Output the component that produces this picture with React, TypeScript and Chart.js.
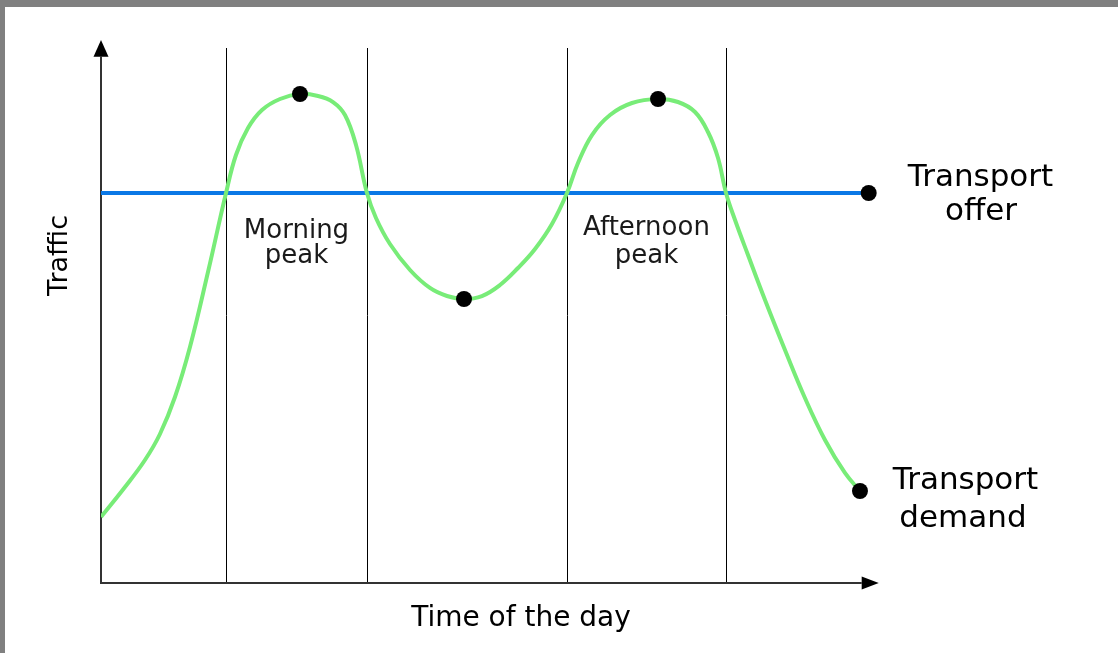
import { useEffect, useRef } from "react";
import { Chart, registerables } from "chart.js";

Chart.register(...registerables);

// Transport demand curve (x: time of day, arbitrary 0-100; y: traffic, arbitrary 0-100)
const demandX = [
  0.0, 3.09, 5.66, 7.59, 9.52, 11.45, 13.77, 16.09, 17.37, 18.92, 20.72, 23.04, 25.61,
  27.93, 29.86, 31.4, 32.82, 34.23, 35.39, 37.19, 39.77, 42.34, 44.53, 46.72,
  49.03, 51.35, 53.67, 55.86, 58.04, 59.97, 61.39, 63.19, 65.51, 68.34, 71.69,
  74.26, 76.45, 78.12, 79.41, 80.44, 81.6, 83.27, 85.46, 88.03, 90.6, 93.18, 95.75, 97.68,
];
const demandY = [
  12.15, 17.68, 22.65, 27.44, 34.25, 43.46, 57.27, 71.82, 78.82, 83.79, 87.11, 89.13, 90.06,
  89.69, 88.58, 86.19, 80.66, 71.82, 67.22, 62.43, 57.64, 54.33, 52.85, 52.3,
  52.85, 54.88, 58.01, 61.51, 66.11, 71.82, 77.35, 82.5, 86.19, 88.4, 89.13,
  88.58, 86.74, 83.06, 78.27, 71.82, 66.85, 60.41, 52.12, 42.91, 34.07, 26.34, 20.26, 16.94,
];

// Transport offer (constant)
const offerX = [0, 98.8];
const offerY = [71.82, 71.82];

// Highlighted points
const markerX = [25.61, 46.72, 71.69, 98.8, 97.68];
const markerY = [90.06, 52.3, 89.13, 71.82, 16.94];

// Peak period boundaries
const peakBoundaries = [16.09, 34.23, 59.97, 80.44];
const boundaryTop = 98.5;

const peakLabels = [["Morning", "peak"], ["Afternoon", "peak"]];
const offerLabel = ["Transport", "offer"];
const demandLabel = ["Transport", "demand"];
const xTitle = "Time of the day";
const yTitle = "Traffic";

const FONT = "'DejaVu Sans', Verdana, sans-serif";

const overlay = {
  id: "overlay",
  beforeDraw(chart: any) {
    const { ctx, width, height } = chart;
    ctx.save();
    ctx.fillStyle = "#ffffff";
    ctx.fillRect(0, 0, width, height);
    ctx.fillStyle = "#808080";
    ctx.fillRect(0, 0, width, 7);
    ctx.fillRect(0, 0, 5, height);
    ctx.restore();
  },
  beforeDatasetsDraw(chart: any) {
    const { ctx } = chart;
    const xs = chart.scales.x;
    const ys = chart.scales.y;
    const x0 = Math.round(xs.getPixelForValue(0));
    const y0 = Math.round(ys.getPixelForValue(0));
    const yArrowBase = ys.getPixelForValue(96.9);
    const yTip = ys.getPixelForValue(100);
    const xArrowBase = xs.getPixelForValue(97.9);
    const xTip = xs.getPixelForValue(100.1);
    ctx.save();
    // peak boundaries
    ctx.strokeStyle = "#000000";
    ctx.lineWidth = 1;
    const bTop = Math.round(ys.getPixelForValue(boundaryTop));
    peakBoundaries.forEach((b) => {
      const px = Math.round(xs.getPixelForValue(b)) + 0.5;
      ctx.beginPath();
      ctx.moveTo(px, bTop);
      ctx.lineTo(px, y0);
      ctx.stroke();
    });
    // axes
    ctx.strokeStyle = "#333333";
    ctx.lineWidth = 2;
    ctx.beginPath();
    ctx.moveTo(x0, yArrowBase);
    ctx.lineTo(x0, y0);
    ctx.lineTo(xArrowBase, y0);
    ctx.stroke();
    ctx.fillStyle = "#000000";
    ctx.beginPath();
    ctx.moveTo(x0, yTip);
    ctx.lineTo(x0 - 7.5, yArrowBase);
    ctx.lineTo(x0 + 7.5, yArrowBase);
    ctx.closePath();
    ctx.fill();
    ctx.beginPath();
    ctx.moveTo(xTip, y0);
    ctx.lineTo(xArrowBase, y0 - 6.5);
    ctx.lineTo(xArrowBase, y0 + 6.5);
    ctx.closePath();
    ctx.fill();
    ctx.restore();
  },
  afterDatasetsDraw(chart: any) {
    const { ctx } = chart;
    const xs = chart.scales.x;
    ctx.save();
    ctx.textAlign = "center";
    ctx.textBaseline = "alphabetic";

    // peak labels
    ctx.fillStyle = "#1a1a1a";
    ctx.font = `26px ${FONT}`;
    const c1 = (xs.getPixelForValue(peakBoundaries[0]) + xs.getPixelForValue(peakBoundaries[1])) / 2;
    const c2 = (xs.getPixelForValue(peakBoundaries[2]) + xs.getPixelForValue(peakBoundaries[3])) / 2;
    ctx.fillText(peakLabels[0][0], c1, 238);
    ctx.fillText(peakLabels[0][1], c1, 263);
    ctx.fillText(peakLabels[1][0], c2, 235);
    ctx.fillText(peakLabels[1][1], c2, 263);

    // series labels
    ctx.fillStyle = "#000000";
    ctx.font = `31px ${FONT}`;
    ctx.fillText(offerLabel[0], 980.5, 186);
    ctx.fillText(offerLabel[1], 981, 220);
    ctx.fillText(demandLabel[0], 965.5, 489);
    ctx.fillText(demandLabel[1], 963, 527);

    // axis titles
    ctx.font = `28px ${FONT}`;
    ctx.fillText(xTitle, 521, 626);
    ctx.font = `27px ${FONT}`;
    ctx.translate(67, 255.5);
    ctx.rotate(-Math.PI / 2);
    ctx.fillText(yTitle, 0, 0);
    ctx.restore();
  },
};

export default function App() {
  const ref = useRef<HTMLCanvasElement | null>(null);

  useEffect(() => {
    if (!ref.current) return;
    const chart = new Chart(ref.current, {
      type: "scatter",
      data: {
        datasets: [
          {
            label: "Markers",
            data: markerX.map((x, i) => ({ x, y: markerY[i] })),
            pointRadius: 8,
            pointBackgroundColor: "#000000",
            pointBorderWidth: 0,
            showLine: false,
            order: 0,
          },
          {
            label: "Transport demand",
            data: demandX.map((x, i) => ({ x, y: demandY[i] })),
            showLine: true,
            borderColor: "#78ec78",
            borderWidth: 4,
            pointRadius: 0,
            tension: 0.4,
            order: 1,
          },
          {
            label: "Transport offer",
            data: offerX.map((x, i) => ({ x, y: offerY[i] })),
            showLine: true,
            borderColor: "#0a78e6",
            borderWidth: 4,
            pointRadius: 0,
            order: 2,
          },
        ] as any,
      },
      options: {
        responsive: false,
        animation: false,
        devicePixelRatio: 1,
        layout: { padding: { left: 101, right: 240, top: 40, bottom: 70 } },
        plugins: {
          legend: { display: false },
          tooltip: { enabled: false },
        },
        scales: {
          x: { type: "linear", min: 0, max: 100, display: false },
          y: { type: "linear", min: 0, max: 100, display: false },
        },
      } as any,
      plugins: [overlay],
    });
    return () => chart.destroy();
  }, []);

  return (
    <div style={{ position: "absolute", left: 0, top: 0, width: 1118, height: 653 }}>
      <canvas ref={ref} width={1118} height={653} style={{ display: "block" }} />
    </div>
  );
}
